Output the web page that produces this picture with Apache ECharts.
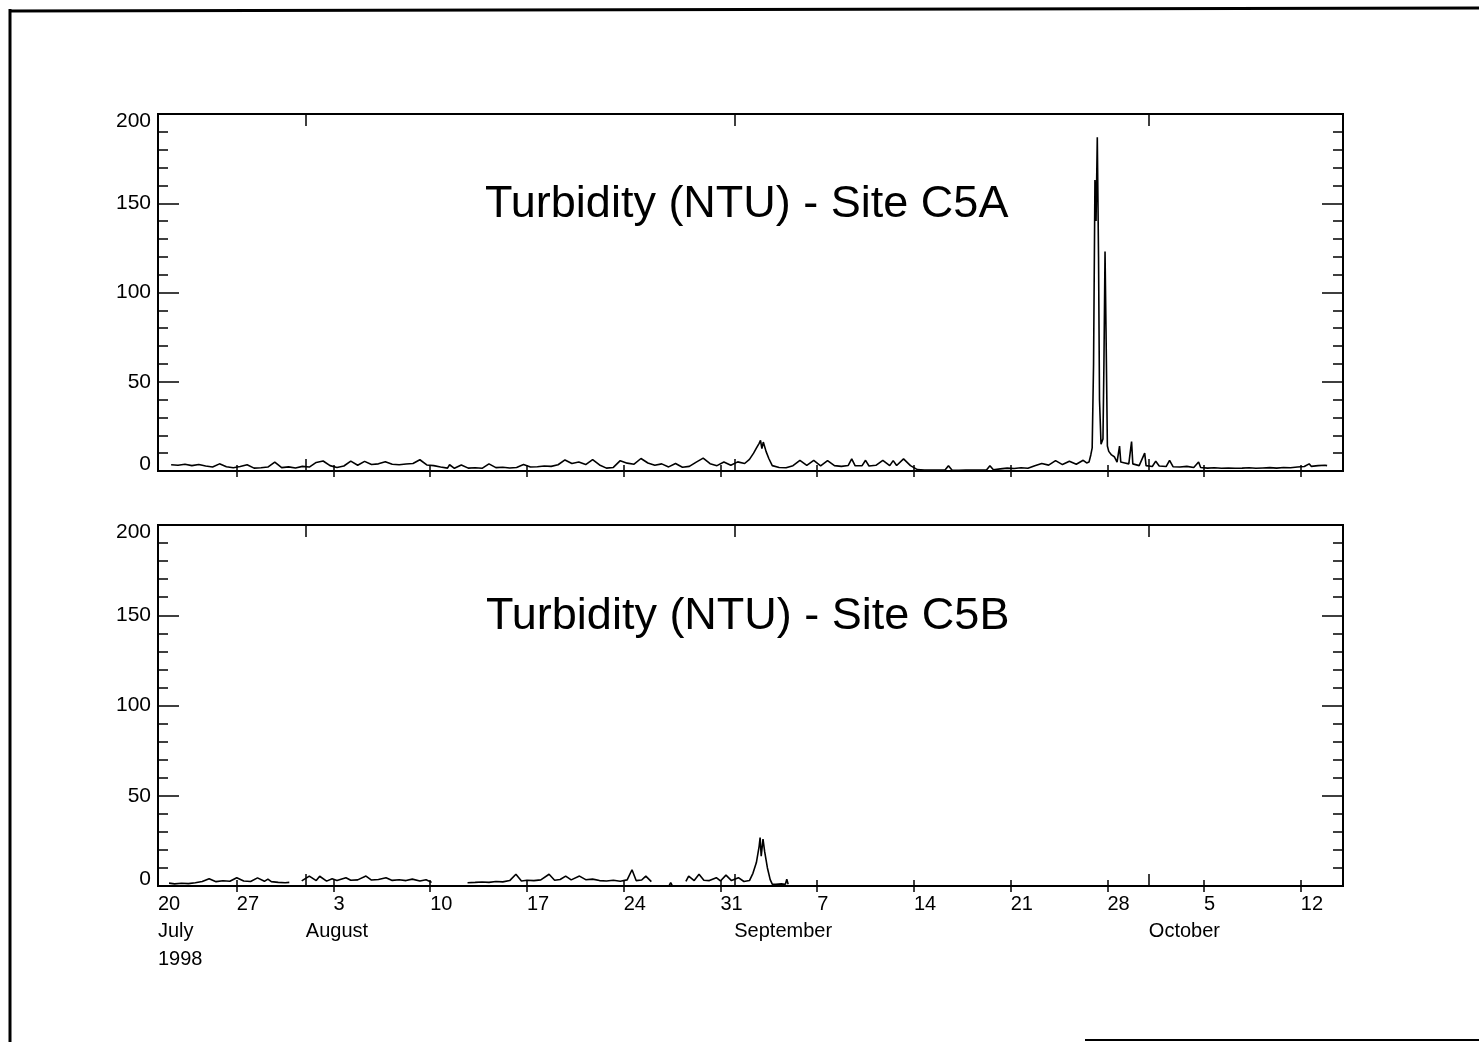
<!DOCTYPE html>
<html><head><meta charset="utf-8">
<script src="https://cdn.jsdelivr.net/npm/echarts@6/dist/echarts.min.js"></script>
<style>html,body{margin:0;padding:0;background:#fff}#c{width:1479px;height:1042px}</style>
</head><body><div id="c"></div><script>
// x values are days after 20 July 1998 (00:00)
const xMin = 1.3, xMax = 87.05;
const weekTickDays = [0,7,14,21,28,35,42,49,56,63,70,77,84];
const weekTickLabels = ['20','27','3','10','17','24','31','7','14','21','28','5','12'];
const monthStartDays = [0,12,43,73];
const monthLabels = ['July\n1998','August','September','October'];
const panelTitles = ['Turbidity (NTU) - Site C5A','Turbidity (NTU) - Site C5B'];

const c5aPoints = [
[2.25,3.5],[2.75,3.2],[3.25,3.8],[3.75,3.0],[4.25,3.6],[4.75,2.8],
[5.25,2.2],[5.75,4.0],[6.25,2.4],[6.75,1.8],[7.25,2.5],[7.75,3.5],[8.25,1.6],
[8.75,1.8],[9.25,2.2],[9.75,5.0],[10.25,1.9],[10.75,2.3],[11.25,1.7],[11.75,2.6],[12.25,2.2],
[12.75,4.8],[13.25,5.6],[13.75,3.0],
[14.25,2.0],[14.75,2.8],[15.25,5.5],
[15.75,3.2],[16.25,5.4],[16.75,3.6],[17.25,4.0],[17.75,5.2],[18.25,3.8],
[18.75,3.5],[19.25,3.9],[19.75,4.2],[20.25,6.3],
[20.75,3.4],[21.25,3.0],[21.75,2.2],[22.25,1.6],
[22.4,3.5],[22.75,1.5],[23.25,3.4],[23.75,1.6],[24.25,1.8],[24.75,1.5],[25.25,4.0],[25.75,1.9],[26.25,2.1],[26.75,1.7],[27.25,2.0],[27.75,3.6],[28.25,2.2],[28.75,2.4],[29.25,2.8],[29.75,2.6],[30.25,3.5],
[30.75,6.2],[31.25,4.2],[31.75,5.0],[32.25,3.6],[32.75,6.4],[33.25,3.4],
[33.75,1.6],[34.25,2.0],[34.75,5.8],[35.25,4.4],
[35.75,3.8],[36.25,7.0],[36.75,4.5],[37.25,3.2],
[37.75,4.0],[38.25,2.3],[38.75,4.2],[39.25,2.1],[39.75,2.6],
[40.25,5.0],[40.75,7.2],[41.25,4.1],
[41.75,3.0],[42.25,5.0],[42.75,3.2],[43.25,5.1],[43.75,4.2],
[44.1,6.5],[44.4,10],[44.6,12.8],[44.8,15.5],[44.9,17.2],[45.0,12.5],[45.1,16.2],[45.3,11],[45.5,7],[45.75,3],
[46.25,2.0],[46.75,1.8],
[47.25,3.0],[47.75,6.0],[48.25,3.2],[48.75,6.0],[49.25,2.9],[49.75,5.8],
[50.25,3.0],[50.75,2.6],[51.25,3.1],[51.5,6.8],[51.75,2.9],[52.25,3.0],[52.5,6.0],[52.75,2.8],[53.25,3.2],[53.75,6.0],[54.25,3.0],[54.5,5.8],[54.75,3.1],[55.25,6.8],[55.75,3.0],
[56.25,0.8],[56.75,0.5],[57.25,0.5],[57.75,0.6],[58.25,0.5],[58.5,3.0],[58.75,0.5],[59.25,0.4],[59.75,0.5],[60.25,0.6],[60.75,0.5],[61.25,0.6],[61.5,3.0],[61.75,0.7],
[62.25,1.2],[62.75,1.6],[63.25,1.4],[63.75,1.8],[64.25,1.5],
[64.75,3.0],[65.25,4.2],[65.75,3.3],[66.25,5.8],[66.75,3.6],[67.25,5.5],[67.75,3.8],[68.25,6.0],[68.5,4.5],
[68.67,5],[68.8,9],[68.9,13],[69.0,60],[69.1,163],[69.18,140],[69.27,187],[69.36,120],[69.43,40],[69.54,15],[69.68,18],[69.75,60],[69.83,123],[69.9,80],[70.0,14],[70.1,11],[70.3,9],[70.5,8],[70.7,5],[70.88,14],[70.97,5],[71.26,4.5],[71.55,4],[71.75,16.5],[71.84,4],[72.3,3],[72.7,10],[72.8,3],
[73.25,2.5],[73.5,5.5],[73.75,2.8],[74.25,2.5],[74.5,6.0],[74.75,2.4],[75.25,2.2],[75.75,2.6],[76.25,2.0],[76.6,5.0],[76.75,2.0],
[77.25,1.6],[77.75,1.8],[78.25,1.5],[78.75,1.7],[79.25,1.5],[79.75,1.6],[80.25,1.8],[80.75,1.5],[81.25,1.7],[81.75,1.9],[82.25,1.6],[82.75,2.0],[83.25,1.8],[83.75,2.2],[84.25,2.5],[84.6,4.0],[84.75,2.6],[85.25,3.0],[85.75,3.2],[85.9,3.0]
];

const c5bPoints = [
[2.1,1.6],[2.5,1.2],[3.0,1.5],[3.5,1.3],[4.0,1.8],
[4.5,2.5],[5.0,4.0],[5.5,2.4],[6.0,2.9],[6.5,2.6],[7.0,4.6],[7.5,2.8],[8.0,2.5],[8.5,4.5],
[9.0,2.6],[9.25,3.8],[9.5,2.4],[10.0,2.0],[10.5,1.8],[10.8,2.0],[10.9,null],
[11.7,2.8],[12.25,5.5],[12.75,3.0],[13.0,5.4],[13.5,2.7],[13.9,4.0],
[14.25,3.0],[14.9,4.6],[15.25,3.2],[15.75,3.4],[16.35,5.5],[16.75,3.3],[17.25,3.6],[17.8,4.6],[18.25,3.1],[18.75,3.5],[19.25,3.0],[19.7,3.8],[20.25,2.8],[20.7,3.5],[21.1,2.0],[21.2,null],
[23.7,1.8],[24.25,2.0],[24.75,2.2],[25.25,2.0],[25.75,2.5],[26.25,2.3],[26.75,3.0],[27.2,6.5],[27.6,2.8],[28.0,3.2],[28.5,3.0],[29.0,3.4],[29.6,6.5],[30.0,3.2],[30.4,3.6],[30.8,5.5],[31.2,3.4],[31.8,5.5],[32.25,3.5],[32.75,3.8],
[33.25,3.0],[33.75,2.8],[34.25,3.2],[34.75,2.6],[35.25,3.4],[35.6,9.0],[35.9,3.0],[36.3,3.3],[36.6,5.5],[37.0,2.4],[37.1,null],
[38.3,0.5],[38.4,1.8],[38.5,0.5],[38.6,null],
[39.5,2.5],[39.7,5.5],[40.1,3.0],[40.45,6.5],[40.8,3.2],[41.2,3.0],[41.7,4.6],[42.0,2.8],[42.4,6.0],[42.8,3.0],[43.3,4.6],[43.7,2.5],
[44.1,3.0],[44.35,7],[44.6,13],[44.8,22],[44.87,26.8],[44.95,16.5],[45.08,26.0],[45.2,19],[45.4,10],[45.6,3.5],[45.75,1.0],
[46.0,1.0],[46.4,1.2],[46.7,1.0],[46.8,3.7],[46.9,1.0]
];

const FONT = 'Liberation Sans, Arial, Helvetica, sans-serif';
const clamp = d => Math.max(d, xMin);
const labelFor = (vals, texts) => v => {
  const i = vals.findIndex(x => Math.abs(x - v) < 1e-6);
  return i < 0 ? '' : texts[i];
};
const weekVals = weekTickDays.map(clamp);
const monthVals = monthStartDays.map(clamp);
const tickStyle = {color:'#000', width:1.5};

function xAxes(g, withLabels) {
  const base = {type:'value', gridIndex:g, min:xMin, max:xMax, splitLine:{show:false}, axisLine:{show:false}};
  const wTicks = {show:true, inside:true, length:6, customValues: weekTickDays.filter(d => d > xMin), lineStyle:tickStyle};
  const mTicks = {show:true, inside:true, length:12, customValues: monthStartDays.filter(d => d > xMin), lineStyle:tickStyle};
  return [
    Object.assign({}, base, {position:'bottom', axisTick:wTicks,
      axisLabel:{show:withLabels, customValues:weekVals, formatter:labelFor(weekVals, weekTickLabels), align:'left', margin:8, fontSize:20, color:'#000', fontFamily:FONT}}),
    Object.assign({}, base, {position:'top', axisTick:wTicks, axisLabel:{show:false}}),
    Object.assign({}, base, {position:'bottom', axisTick:mTicks,
      axisLabel:{show:withLabels, customValues:monthVals, formatter:labelFor(monthVals, monthLabels), align:'left', verticalAlign:'top', margin:31, lineHeight:28, fontSize:20, color:'#000', fontFamily:FONT}}),
    Object.assign({}, base, {position:'top', axisTick:mTicks, axisLabel:{show:false}})
  ];
}
function yAxes(g) {
  const base = {type:'value', gridIndex:g, min:0, max:200, interval:50, splitLine:{show:false}, axisLine:{show:false},
    axisTick:{show:true, inside:true, length:21, lineStyle:tickStyle},
    minorTick:{show:true, splitNumber:5, length:10, lineStyle:tickStyle}, minorSplitLine:{show:false}};
  return [
    Object.assign({}, base, {position:'left', axisLabel:{fontSize:21, lineHeight:14, color:'#000', margin:7, fontFamily:FONT, verticalAlignMaxLabel:'top', verticalAlignMinLabel:'bottom'}}),
    Object.assign({}, base, {position:'right', axisLabel:{show:false}})
  ];
}
const toData = pts => pts.map(p => [p[0], p[1] === null ? '-' : p[1]]);

const chart = echarts.init(document.getElementById('c'), null, {renderer:'canvas'});
chart.setOption({
  animation:false,
  backgroundColor:'#fff',
  title: panelTitles.map((t, i) => ({text:t, left: i ? 486 : 485, top: i ? 594 : 182, padding:0,
    textStyle:{fontSize:45, fontWeight:'normal', color:'#000', fontFamily:FONT}})),
  grid:[
    {left:158, top:114, width:1185, height:357, show:true, borderColor:'#000', borderWidth:2, backgroundColor:'transparent'},
    {left:158, top:525, width:1185, height:361, show:true, borderColor:'#000', borderWidth:2, backgroundColor:'transparent'}
  ],
  xAxis: xAxes(0, false).concat(xAxes(1, true)),
  yAxis: yAxes(0).concat(yAxes(1)),
  series:[
    {type:'line', name:'C5A', xAxisIndex:0, yAxisIndex:0, data:toData(c5aPoints), showSymbol:false, symbol:'none',
      lineStyle:{color:'#000', width:1.6}, connectNulls:false},
    {type:'line', name:'C5B', xAxisIndex:4, yAxisIndex:2, data:toData(c5bPoints), showSymbol:false, symbol:'none',
      lineStyle:{color:'#000', width:1.6}, connectNulls:false}
  ],
  graphic:[
    {type:'line', shape:{x1:10, y1:9, x2:10, y2:1042}, style:{stroke:'#000', lineWidth:3}},
    {type:'line', shape:{x1:9, y1:11, x2:1479, y2:8}, style:{stroke:'#000', lineWidth:3}},
    {type:'line', shape:{x1:1085, y1:1040, x2:1479, y2:1040}, style:{stroke:'#000', lineWidth:2}}
  ]
});
</script></body></html>
